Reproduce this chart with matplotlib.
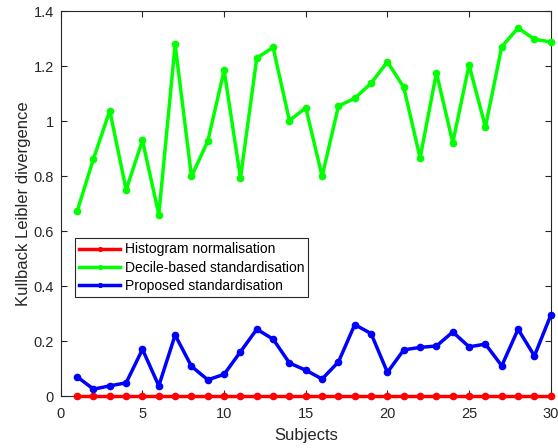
import matplotlib
matplotlib.use("Agg")
import matplotlib.pyplot as plt
from matplotlib.ticker import FuncFormatter

plt.rcParams['font.family'] = ['Liberation Sans', 'DejaVu Sans']

subjects = list(range(1, 31))
histogram = [0.0] * 30
decile = [0.672, 0.863, 1.038, 0.750, 0.930, 0.660, 1.279, 0.799, 0.927, 1.185,
          0.793, 1.230, 1.268, 1.002, 1.049, 0.799, 1.055, 1.083, 1.138, 1.216,
          1.123, 0.866, 1.176, 0.922, 1.204, 0.979, 1.271, 1.339, 1.298, 1.288]
proposed = [0.070, 0.025, 0.037, 0.048, 0.170, 0.037, 0.222, 0.108, 0.059, 0.079,
            0.161, 0.243, 0.207, 0.120, 0.094, 0.062, 0.124, 0.260, 0.227, 0.086,
            0.168, 0.177, 0.182, 0.233, 0.179, 0.189, 0.110, 0.243, 0.146, 0.294]
labels = ["Histogram normalisation", "Decile-based standardisation", "Proposed standardisation"]
colors = ["#ff0000", "#00ff00", "#0000ff"]
xticks = [0, 5, 10, 15, 20, 25, 30]
yticks = [0, 0.2, 0.4, 0.6, 0.8, 1.0, 1.2, 1.4]

fig = plt.figure(figsize=(5.58, 4.48), dpi=100)
ax = fig.add_axes([0.109, 0.116, 0.878, 0.859])

for ys, lab, c in zip([histogram, decile, proposed], labels, colors):
    ax.plot(subjects, ys, '-o', color=c, lw=2.5, ms=4.5, label=lab, clip_on=False, zorder=3)

ax.set_xlim(0, 30)
ax.set_ylim(0, 1.4)
ax.set_xticks(xticks)
ax.set_yticks(yticks)
ax.yaxis.set_major_formatter(FuncFormatter(lambda v, p: ('%g' % round(v, 2))))
ax.tick_params(direction='in', top=True, right=True, labelsize=10.5, colors='#262626',
               length=4, width=0.8)
ax.tick_params(axis='x', pad=8)
ax.tick_params(axis='y', pad=5)
for s in ax.spines.values():
    s.set_color('#262626')
    s.set_linewidth(0.8)
ax.set_xlabel('Subjects', fontsize=12, color='#262626', labelpad=5)
ax.set_ylabel('Kullback Leibler divergence', fontsize=12, color='#262626', labelpad=2)

leg = ax.legend(loc='upper left', bbox_to_anchor=(0.028, 0.410), fontsize=10,
                frameon=True, fancybox=False, edgecolor='#262626', framealpha=1,
                handlelength=3.0, handletextpad=0.3, borderpad=0.3, labelspacing=0.3,
                borderaxespad=0, markerscale=0.6)
leg.get_frame().set_linewidth(0.8)

fig.savefig('out.png', dpi=100)
